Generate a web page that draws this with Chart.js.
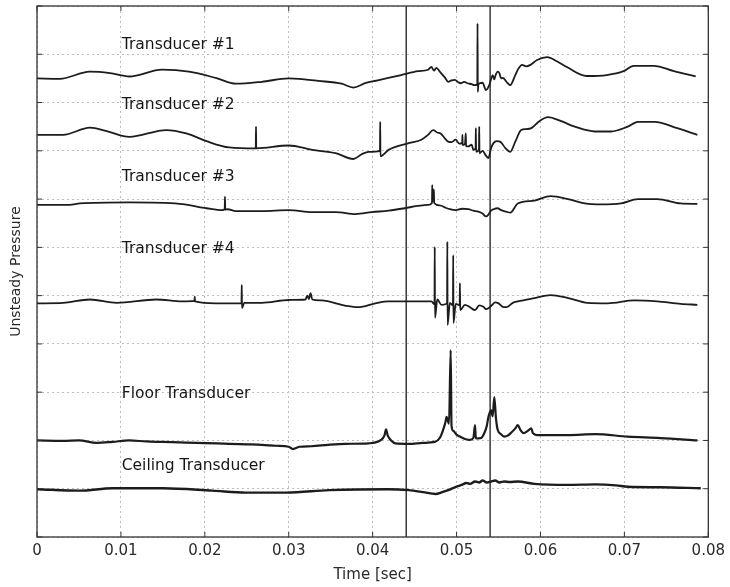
<!DOCTYPE html>
<html>
<head>
<meta charset="utf-8">
<script src="https://cdn.jsdelivr.net/npm/chart.js@4.4.1/dist/chart.umd.min.js"></script>
<style>
  html, body { margin: 0; padding: 0; background: #fff; }
  #wrap { width: 730px; height: 587px; }
</style>
</head>
<body>
<div id="wrap"><canvas id="pressure"></canvas></div>
<script>
// Pressure traces, [time (s), offset pressure]
const transducer1 = [
  [0.0000, 9.50], [0.0027, 9.49], [0.0063, 9.64], [0.0087, 9.61], [0.0110, 9.54], [0.0149, 9.68],
  [0.0181, 9.64], [0.0213, 9.51], [0.0237, 9.39], [0.0268, 9.43], [0.0300, 9.50], [0.0312, 9.49],
  [0.0335, 9.45], [0.0363, 9.39], [0.0377, 9.31], [0.0391, 9.40], [0.0406, 9.46], [0.0434, 9.57],
  [0.0454, 9.65], [0.0466, 9.68], [0.0470, 9.74], [0.0473, 9.66], [0.0476, 9.72], [0.0480, 9.64],
  [0.0486, 9.52], [0.0490, 9.43], [0.0494, 9.46], [0.0498, 9.47], [0.0502, 9.42], [0.0505, 9.40],
  [0.0509, 9.43], [0.0513, 9.40], [0.0518, 9.38], [0.0521, 9.36], [0.05247, 9.37], [0.0525, 10.64],
  [0.05253, 9.22], [0.0526, 9.38], [0.0531, 9.41], [0.0535, 9.26], [0.0539, 9.36], [0.0541, 9.48],
  [0.0543, 9.57], [0.0545, 9.48], [0.0546, 9.54], [0.0549, 9.64], [0.0551, 9.61], [0.0553, 9.50],
  [0.0555, 9.51], [0.0561, 9.40], [0.0564, 9.36], [0.0570, 9.57], [0.0574, 9.71], [0.0578, 9.78],
  [0.0583, 9.75], [0.0588, 9.78], [0.0596, 9.88], [0.0608, 9.94], [0.0620, 9.85], [0.0632, 9.73],
  [0.0655, 9.55], [0.0679, 9.57], [0.0699, 9.65], [0.0711, 9.76], [0.0735, 9.76], [0.0759, 9.65],
  [0.0785, 9.54]
];
const transducer2 = [
  [0.0000, 8.33], [0.0031, 8.33], [0.0063, 8.48], [0.0083, 8.41], [0.0110, 8.29], [0.0154, 8.43],
  [0.0178, 8.36], [0.0202, 8.20], [0.0229, 8.07], [0.02607, 8.05], [0.0261, 8.50], [0.02613, 8.05],
  [0.0300, 8.11], [0.0328, 8.02], [0.0356, 7.95], [0.0377, 7.83], [0.0387, 7.93], [0.0395, 7.98],
  [0.04087, 8.00], [0.0409, 8.60], [0.04093, 7.89], [0.0419, 8.02], [0.0443, 8.16], [0.0458, 8.23],
  [0.0466, 8.33], [0.0472, 8.43], [0.0477, 8.38], [0.0481, 8.36], [0.0486, 8.26], [0.0490, 8.19],
  [0.0494, 8.18], [0.0499, 8.23], [0.0503, 8.15], [0.05067, 8.16], [0.0507, 8.33], [0.05073, 8.12],
  [0.0510, 8.14], [0.0511, 8.36], [0.05113, 8.10], [0.0514, 8.09], [0.0518, 8.13], [0.0520, 8.02],
  [0.05227, 8.05], [0.0523, 8.47], [0.05233, 7.98], [0.05267, 8.03], [0.0527, 8.50], [0.05273, 7.95],
  [0.0531, 8.00], [0.0535, 7.90], [0.0538, 7.85], [0.0541, 8.05], [0.0544, 8.16], [0.0548, 8.20],
  [0.0552, 8.19], [0.0558, 8.06], [0.0564, 7.98], [0.0570, 8.19], [0.0577, 8.43], [0.0583, 8.45],
  [0.0589, 8.47], [0.0599, 8.62], [0.0609, 8.70], [0.0624, 8.62], [0.0641, 8.50], [0.0665, 8.40],
  [0.0684, 8.40], [0.0704, 8.50], [0.0716, 8.60], [0.0736, 8.60], [0.0763, 8.47], [0.0787, 8.33]
];
const transducer3 = [
  [0.0000, 6.88], [0.0039, 6.88], [0.0051, 6.91], [0.0110, 6.93], [0.0170, 6.90], [0.0202, 6.81],
  [0.0221, 6.77], [0.02237, 6.80], [0.0224, 7.05], [0.02243, 6.78], [0.0227, 6.79], [0.0237, 6.75],
  [0.0268, 6.75], [0.0300, 6.77], [0.0328, 6.73], [0.0356, 6.73], [0.0380, 6.69], [0.0399, 6.73],
  [0.0419, 6.76], [0.0434, 6.80], [0.0466, 6.88], [0.04707, 6.92], [0.0471, 7.29], [0.04713, 6.95],
  [0.0473, 7.20], [0.04733, 6.92], [0.0480, 6.87], [0.0487, 6.82], [0.0492, 6.79], [0.0499, 6.77],
  [0.0507, 6.80], [0.0514, 6.79], [0.0520, 6.76], [0.0526, 6.74], [0.0531, 6.70], [0.0535, 6.64],
  [0.0538, 6.68], [0.0541, 6.76], [0.0544, 6.79], [0.0549, 6.81], [0.0553, 6.77], [0.0559, 6.74],
  [0.0564, 6.72], [0.0573, 6.91], [0.0593, 6.97], [0.0612, 7.06], [0.0633, 7.00], [0.0653, 6.91],
  [0.0672, 6.89], [0.0696, 6.91], [0.0716, 7.00], [0.0739, 7.00], [0.0767, 6.91], [0.0787, 6.90]
];
const transducer4 = [
  [0.0000, 4.84], [0.0031, 4.85], [0.0063, 4.92], [0.0095, 4.85], [0.0142, 4.92], [0.0173, 4.88],
  [0.01877, 4.89], [0.0188, 4.98], [0.01883, 4.88], [0.0213, 4.84], [0.02437, 4.84], [0.0244, 5.22],
  [0.02443, 4.74], [0.0247, 4.85], [0.0268, 4.85], [0.0300, 4.91], [0.0320, 4.92], [0.0322, 5.00],
  [0.0324, 4.93], [0.0326, 5.05], [0.0328, 4.92], [0.0339, 4.90], [0.0368, 4.79], [0.0383, 4.76],
  [0.0403, 4.84], [0.0419, 4.88], [0.0443, 4.88], [0.0470, 4.88], [0.04737, 4.82], [0.0474, 6.01],
  [0.04743, 4.54], [0.0477, 4.92], [0.0482, 4.81], [0.04887, 4.84], [0.0489, 6.12], [0.04893, 4.39],
  [0.0492, 4.85], [0.04957, 4.80], [0.0496, 5.84], [0.04963, 4.43], [0.0499, 4.83], [0.05037, 4.80],
  [0.0504, 5.26], [0.05043, 4.70], [0.0510, 4.81], [0.0516, 4.76], [0.0522, 4.70], [0.0527, 4.80],
  [0.0532, 4.77], [0.0535, 4.72], [0.0538, 4.74], [0.0542, 4.80], [0.0546, 4.86], [0.0550, 4.84],
  [0.0556, 4.76], [0.0561, 4.77], [0.0567, 4.85], [0.0573, 4.88], [0.0593, 4.95], [0.0612, 5.01],
  [0.0633, 4.95], [0.0656, 4.85], [0.0680, 4.84], [0.0712, 4.90], [0.0739, 4.88], [0.0767, 4.83],
  [0.0787, 4.81]
];
const floorTrace = [
  [0.0000, 2.00], [0.0031, 1.99], [0.0050, 2.00], [0.0071, 1.95], [0.0090, 1.97], [0.0110, 2.00],
  [0.0130, 1.98], [0.0149, 1.97], [0.0170, 1.96], [0.0190, 1.95], [0.0215, 1.94], [0.0229, 1.93],
  [0.0250, 1.92], [0.0268, 1.91], [0.0285, 1.89], [0.0300, 1.87], [0.0305, 1.82], [0.0308, 1.84],
  [0.0313, 1.87], [0.0327, 1.88], [0.0347, 1.91], [0.0368, 1.93], [0.0395, 1.94], [0.0410, 2.01],
  [0.0414, 2.10], [0.0416, 2.23], [0.0418, 2.10], [0.0422, 2.00], [0.0427, 1.94], [0.0443, 1.93],
  [0.0460, 1.95], [0.0474, 1.97], [0.0480, 2.05], [0.0484, 2.22], [0.0487, 2.40], [0.0488, 2.49],
  [0.0491, 2.35], [0.0493, 3.87], [0.0494, 2.30], [0.0496, 2.20], [0.0500, 2.12], [0.0504, 2.08],
  [0.0510, 2.03], [0.0516, 2.01], [0.0520, 2.05], [0.0522, 2.32], [0.0523, 2.04], [0.0529, 2.05],
  [0.0533, 2.15], [0.0536, 2.30], [0.0538, 2.49], [0.0541, 2.63], [0.0543, 2.50], [0.0545, 2.90],
  [0.0547, 2.45], [0.0549, 2.22], [0.0553, 2.13], [0.0557, 2.08], [0.0561, 2.10], [0.0565, 2.16],
  [0.0570, 2.25], [0.0573, 2.32], [0.0576, 2.22], [0.0580, 2.15], [0.0585, 2.20], [0.0589, 2.25],
  [0.0591, 2.15], [0.0596, 2.11], [0.0633, 2.11], [0.0665, 2.13], [0.0704, 2.08], [0.0743, 2.05],
  [0.0787, 2.00]
];
const ceilingTrace = [
  [0.0000, 0.99], [0.0051, 0.96], [0.0090, 1.01], [0.0150, 1.01], [0.0209, 0.96], [0.0249, 0.92],
  [0.0297, 0.92], [0.0348, 0.97], [0.0419, 0.99], [0.0443, 0.97], [0.0460, 0.93], [0.0475, 0.89],
  [0.0483, 0.93], [0.0490, 0.97], [0.0498, 1.03], [0.0506, 1.08], [0.0512, 1.12], [0.0516, 1.10],
  [0.0522, 1.15], [0.0527, 1.13], [0.0531, 1.17], [0.0536, 1.13], [0.0541, 1.15], [0.0546, 1.17],
  [0.0551, 1.13], [0.0557, 1.15], [0.0563, 1.14], [0.0573, 1.15], [0.0593, 1.10], [0.0633, 1.08],
  [0.0665, 1.09], [0.0690, 1.07], [0.0704, 1.04], [0.0743, 1.03], [0.0791, 1.01]
];

const traceNames = ['Transducer #1', 'Transducer #2', 'Transducer #3', 'Transducer #4',
  'Floor Transducer', 'Ceiling Transducer'];
const labelLevels = [10.19, 8.96, 7.46, 5.96, 2.96, 1.47];
const labelTime = 0.0101;
const eventTimes = [0.044, 0.054];

const traces = [transducer1, transducer2, transducer3, transducer4, floorTrace, ceilingTrace];
const lineWidths = [1.8, 1.8, 1.8, 1.8, 2.2, 2.4];

const datasets = traces.map((tr, i) => ({
  label: traceNames[i],
  data: tr.map(p => ({ x: p[0], y: p[1] })),
  borderColor: '#1c1c1c',
  borderWidth: lineWidths[i],
  borderJoinStyle: 'round',
  cubicInterpolationMode: 'monotone',
  pointRadius: 0,
  fill: false
}));

// vertical event markers
eventTimes.forEach(t => {
  datasets.push({
    label: 'event',
    data: [{ x: t, y: 0 }, { x: t, y: 11 }],
    borderColor: '#2a2a2a',
    borderWidth: 1.4,
    pointRadius: 0
  });
});

const FONT = 'DejaVu Sans';

// frame, inner ticks and trace names
const framePlugin = {
  id: 'frame',
  afterDatasetsDraw(chart) {
    const { ctx, chartArea: a, scales } = chart;
    ctx.save();
    ctx.strokeStyle = '#333';
    ctx.lineWidth = 1.3;
    ctx.strokeRect(a.left, a.top, a.right - a.left, a.bottom - a.top);

    ctx.lineWidth = 1;
    const len = 5;
    scales.x.ticks.forEach((tk, i) => {
      const px = scales.x.getPixelForTick(i);
      ctx.beginPath();
      ctx.moveTo(px, a.bottom); ctx.lineTo(px, a.bottom - len);
      ctx.moveTo(px, a.top); ctx.lineTo(px, a.top + len);
      ctx.stroke();
    });
    scales.y.ticks.forEach((tk, i) => {
      const py = scales.y.getPixelForTick(i);
      ctx.beginPath();
      ctx.moveTo(a.left, py); ctx.lineTo(a.left + len, py);
      ctx.moveTo(a.right, py); ctx.lineTo(a.right - len, py);
      ctx.stroke();
    });

    ctx.fillStyle = '#161616';
    ctx.font = '15.5px "' + FONT + '"';
    ctx.textBaseline = 'middle';
    ctx.textAlign = 'left';
    traceNames.forEach((name, i) => {
      ctx.fillText(name, scales.x.getPixelForValue(labelTime), scales.y.getPixelForValue(labelLevels[i]));
    });
    ctx.restore();
  }
};

new Chart(document.getElementById('pressure'), {
  type: 'line',
  data: { datasets: datasets },
  options: {
    responsive: true,
    maintainAspectRatio: false,
    animation: false,
    layout: { padding: { top: 6, right: 19, left: 0, bottom: 0 } },
    plugins: {
      legend: { display: false },
      tooltip: { enabled: false }
    },
    scales: {
      x: {
        type: 'linear',
        min: 0,
        max: 0.08,
        afterFit(scale) { scale.height = 50; },
        ticks: {
          stepSize: 0.01,
          padding: 5,
          color: '#2a2a2a',
          font: { family: FONT, size: 15 },
          maxRotation: 0,
          callback: v => parseFloat(v.toFixed(2)).toString()
        },
        grid: { color: '#bdbdbd', lineWidth: 1, drawTicks: false },
        border: { display: false, dash: [2, 3] },
        title: {
          display: true,
          text: 'Time [sec]',
          color: '#2a2a2a',
          font: { family: FONT, size: 15 },
          padding: { top: 0, bottom: 3 }
        }
      },
      y: {
        type: 'linear',
        min: 0,
        max: 11,
        afterFit(scale) { scale.width = 37; },
        ticks: { stepSize: 1, display: false },
        grid: { color: '#bdbdbd', lineWidth: 1, drawTicks: false },
        border: { display: false, dash: [2, 3] },
        title: {
          display: true,
          text: 'Unsteady Pressure',
          color: '#2a2a2a',
          font: { family: FONT, size: 14 },
          padding: { top: 8, bottom: 0 }
        }
      }
    }
  },
  plugins: [framePlugin]
});
</script>
</body>
</html>
